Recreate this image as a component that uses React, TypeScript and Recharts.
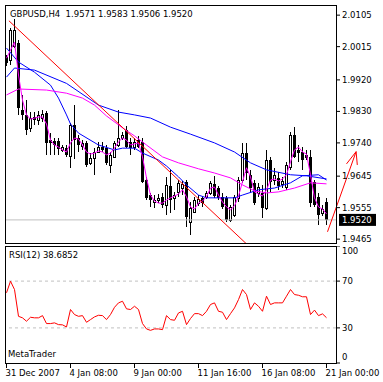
import { ComposedChart, Bar, Line, XAxis, YAxis, ReferenceLine } from 'recharts'

const FONT = "Tahoma, 'DejaVu Sans', sans-serif"
const FS = 8.5

const priceTicks = [2.0105, 2.0015, 1.992, 1.983, 1.974, 1.9645, 1.9555, 1.9465]
const rsiTicks = [0, 30, 70, 100]
const timeTicks = [0, 16, 32, 48, 64, 80]
const timeLabels = ['31 Dec 2007', '4 Jan 08:00', '9 Jan 00:00', '11 Jan 16:00', '16 Jan 08:00', '21 Jan 00:00']

const opens = [
  1.9985, 1.9977, 2.0017, 2.0025, 1.9834, 1.982, 1.9783, 1.9814, 1.9805, 1.9811,
  1.9825, 1.9748, 1.9745, 1.9745, 1.972, 1.9725, 1.9703, 1.9791, 1.9754, 1.9731,
  1.974, 1.9683, 1.9697, 1.9714, 1.9728, 1.9725, 1.9677, 1.97, 1.9734, 1.9754,
  1.9777, 1.9743, 1.9728, 1.9748, 1.9743, 1.9634, 1.9591, 1.9571, 1.9577, 1.9586,
  1.9563, 1.9617, 1.9583, 1.96, 1.9611, 1.9629, 1.9514, 1.9543, 1.9568, 1.9583,
  1.9586, 1.9597, 1.9623, 1.9611, 1.9586, 1.9583, 1.952, 1.9534, 1.9583, 1.9634,
  1.9711, 1.9649, 1.9626, 1.9597, 1.9597, 1.9554, 1.9691, 1.9634, 1.964, 1.9623,
  1.9614, 1.9671, 1.9763, 1.972, 1.9714, 1.9706, 1.97, 1.9629, 1.9586, 1.954,
  1.9571,
]
const highs = [
  1.9991, 2.0068, 2.0094, 2.0034, 1.9877, 1.9862, 1.9828, 1.9828, 1.9831, 1.9834,
  1.9831, 1.9768, 1.9754, 1.9754, 1.9734, 1.9734, 1.9797, 1.9848, 1.9763, 1.9748,
  1.9746, 1.9711, 1.9726, 1.9743, 1.9743, 1.9734, 1.9714, 1.9746, 1.9834, 1.9771,
  1.9788, 1.9754, 1.9754, 1.976, 1.9754, 1.9643, 1.9597, 1.9591, 1.9594, 1.9597,
  1.9643, 1.9663, 1.96, 1.9634, 1.9631, 1.9634, 1.9571, 1.9586, 1.9591, 1.9588,
  1.9603, 1.9631, 1.9646, 1.9617, 1.9597, 1.9588, 1.9563, 1.9591, 1.9643, 1.974,
  1.974, 1.9663, 1.9634, 1.9626, 1.962, 1.972, 1.97, 1.9669, 1.9657, 1.9643,
  1.9686, 1.9771, 1.9785, 1.9734, 1.9728, 1.972, 1.972, 1.9634, 1.9597, 1.9563,
  1.9583,
]
const lows = [
  1.996, 1.9962, 2.0011, 1.982, 1.9805, 1.9763, 1.9771, 1.9791, 1.9791, 1.98,
  1.9706, 1.9706, 1.9706, 1.9706, 1.9714, 1.97, 1.9668, 1.9694, 1.9714, 1.972,
  1.9671, 1.9677, 1.9649, 1.9711, 1.9714, 1.9677, 1.9654, 1.9697, 1.9728, 1.9748,
  1.9725, 1.9706, 1.972, 1.9725, 1.9626, 1.9577, 1.9557, 1.9554, 1.9568, 1.9554,
  1.9534, 1.954, 1.9549, 1.9586, 1.9591, 1.95, 1.9478, 1.954, 1.956, 1.9557,
  1.958, 1.9591, 1.9583, 1.9577, 1.9551, 1.9514, 1.9514, 1.9529, 1.9571, 1.9626,
  1.9634, 1.9597, 1.9563, 1.9586, 1.9526, 1.9549, 1.96, 1.962, 1.9606, 1.9611,
  1.9606, 1.9663, 1.9697, 1.9686, 1.9663, 1.9691, 1.9557, 1.9557, 1.9506, 1.9531,
  1.9506,
]
const closes = [
  1.9968, 2.0062, 2.0062, 1.984, 1.982, 1.9777, 1.9811, 1.9805, 1.982, 1.9823,
  1.974, 1.974, 1.9734, 1.9723, 1.9728, 1.9706, 1.9791, 1.9748, 1.9734, 1.974,
  1.9677, 1.9697, 1.9714, 1.9728, 1.972, 1.9683, 1.9706, 1.974, 1.9754, 1.9763,
  1.9728, 1.9725, 1.9743, 1.9728, 1.9629, 1.9583, 1.9577, 1.9577, 1.9583, 1.9563,
  1.962, 1.9577, 1.9591, 1.9626, 1.9623, 1.9529, 1.9554, 1.9577, 1.958, 1.9568,
  1.9597, 1.9626, 1.9588, 1.9583, 1.9557, 1.952, 1.9557, 1.9586, 1.9634, 1.9711,
  1.9654, 1.9612, 1.9568, 1.9614, 1.9554, 1.9691, 1.9629, 1.9649, 1.9617, 1.9631,
  1.9677, 1.9763, 1.97, 1.9711, 1.9691, 1.9697, 1.9568, 1.9563, 1.9534, 1.9551,
  1.952,
]

// fast magenta average, one value per bar
const magentaFast = [
  1.9982, 2.0005, 2.0028, 1.9934, 1.9862, 1.982, 1.9808, 1.9811, 1.9814, 1.9814,
  1.9794, 1.9748, 1.9734, 1.9728, 1.972, 1.9714, 1.974, 1.9754, 1.9751, 1.9734,
  1.9714, 1.9708, 1.9711, 1.9717, 1.9714, 1.9706, 1.9711, 1.9725, 1.9743, 1.9754,
  1.9748, 1.9734, 1.9737, 1.974, 1.97, 1.964, 1.9591, 1.9574, 1.9568, 1.9568,
  1.9577, 1.9583, 1.9588, 1.9594, 1.9606, 1.9586, 1.9557, 1.9551, 1.9568, 1.9574,
  1.9586, 1.9611, 1.9614, 1.9591, 1.9571, 1.9557, 1.9549, 1.956, 1.9588, 1.9629,
  1.9669, 1.9643, 1.96, 1.9594, 1.9588, 1.9606, 1.9634, 1.9637, 1.9631, 1.9637,
  1.9649, 1.9686, 1.972, 1.9728, 1.9714, 1.9708, 1.9649, 1.9583, 1.9557, 1.9551,
  1.9537,
]

// slower averages, read at [bar, price] points
const magentaSlowPts: [number, number][] = [
  [0, 1.9877], [3, 1.9894], [10, 1.9891], [15, 1.9882], [19, 1.9868], [22, 1.9848],
  [25, 1.9817], [29, 1.9783], [32, 1.976], [35, 1.9734], [39, 1.97], [43, 1.9683],
  [48, 1.9666], [52, 1.9654], [56, 1.964], [59, 1.962], [62, 1.9603], [65, 1.9597],
  [68, 1.96], [72, 1.9611], [76, 1.9626], [80, 1.9623],
]
const blueSlowPts: [number, number][] = [
  [0, 1.9928], [2, 1.9954], [7, 1.9948], [15, 1.991], [23, 1.9848], [28, 1.9828],
  [32, 1.982], [36, 1.9811], [41, 1.9785], [46, 1.9765], [52, 1.974], [57, 1.9714],
  [61, 1.9683], [65, 1.9663], [71, 1.9649], [75, 1.9646], [80, 1.9637],
]
const blueFastPts: [number, number][] = [
  [0, 2.0011], [3, 1.9971], [7, 1.9942], [11, 1.9905], [13, 1.9868], [15, 1.982],
  [16, 1.9794], [18, 1.9768], [23, 1.9734], [27, 1.972], [29, 1.9725], [32, 1.9725],
  [34, 1.9711], [38, 1.9691], [40, 1.9674], [43, 1.9643], [45, 1.962], [48, 1.9591],
  [50, 1.9583], [54, 1.9583], [57, 1.9583], [59, 1.9591], [63, 1.9606], [67, 1.9611],
  [71, 1.9626], [74, 1.9646], [78, 1.9649], [80, 1.9634],
]

const rsi = [
  60.0, 69.9, 62.8, 39.9, 38.6, 35.7, 39.1, 38.6, 38.6, 40.5,
  33.7, 33.7, 34.3, 32.8, 32.6, 30.8, 45.7, 41.4, 39.9, 40.5,
  34.8, 37.1, 39.4, 40.8, 40.5, 37.1, 41.4, 47.6, 51.4, 52.8,
  46.3, 45.7, 48.5, 45.7, 33.7, 29.1, 27.9, 29.1, 29.1, 28.5,
  40.5, 37.1, 36.5, 42.8, 44.2, 32.8, 38.0, 42.2, 42.2, 40.5,
  44.2, 50.0, 51.4, 44.2, 43.4, 37.1, 42.2, 47.1, 54.2, 62.8,
  58.5, 45.7, 51.4, 48.5, 44.2, 57.1, 50.0, 51.4, 51.4, 51.4,
  57.1, 62.8, 58.5, 57.9, 56.6, 56.6, 41.4, 45.2, 40.5, 42.0,
  38.7,
]

const bid = 1.952
const trendLine: [number, number][] = [[0.6, 2.0089], [62, 1.943]]
const arrowShaft: [number, number][] = [[80.25, 1.9486], [87.4, 1.9715]]
const arrowBarbL: [number, number][] = [[87.4, 1.9715], [85, 1.968]]
const arrowBarbR: [number, number][] = [[87.4, 1.9715], [87.7, 1.9677]]

const xDomain = [-0.375, 82.375]

function lookup(pts: [number, number][], i: number) {
  const p = pts.find((q) => q[0] === i)
  return p ? p[1] : null
}

const rows = closes.map((c, i) => ({
  i,
  open: opens[i],
  high: highs[i],
  low: lows[i],
  close: c,
  range: [lows[i], highs[i]],
  maFast: magentaFast[i],
  maSlow: lookup(magentaSlowPts, i),
  blueFast: lookup(blueFastPts, i),
  blueSlow: lookup(blueSlowPts, i),
  rsi: rsi[i],
}))

const seg = (p: [number, number][]) => p.map(([x, y]) => ({ x, y }))

function Candle(props: any) {
  const { x, y, width, height, payload } = props
  if (x == null || y == null) return null
  const yTop = Math.min(y, y + height)
  const h = Math.abs(height)
  const cx = Math.round(x + width / 2 - 0.5) + 0.5
  const { open, high, low, close } = payload
  const k = h / (high - low || 1e-9)
  const py = (v: number) => yTop + (high - v) * k
  const top = Math.round(py(Math.max(open, close)))
  const bot = Math.round(py(Math.min(open, close)))
  const up = close >= open
  return (
    <g>
      <line x1={cx} x2={cx} y1={Math.round(yTop)} y2={Math.round(yTop + h)} stroke="#000" strokeWidth={1} />
      {up ? (
        <rect x={cx - 1} y={top + 0.5} width={2} height={Math.max(bot - top, 1)} fill="#fff" stroke="#000" strokeWidth={1} />
      ) : (
        <rect x={cx - 1.5} y={top} width={3} height={Math.max(bot - top, 1)} fill="#000" />
      )}
    </g>
  )
}

function PriceTick({ x, y, payload }: any) {
  return (
    <text x={x} y={y} dy={3} textAnchor="start" fontSize={FS} fontFamily={FONT} fill="#000">
      {Number(payload.value).toFixed(4)}
    </text>
  )
}

function RsiTick({ x, y, payload }: any) {
  const v = payload.value
  const shift = v === 100 ? 5 : v === 0 ? -6 : 0
  return (
    <text x={x} y={y + shift} dy={3} textAnchor="start" fontSize={FS} fontFamily={FONT} fill="#000">
      {v}
    </text>
  )
}

function TimeTick({ x, y, payload }: any) {
  const idx = timeTicks.indexOf(payload.value)
  return (
    <text x={x - 1} y={y} dy={6} textAnchor="start" fontSize={FS} fontFamily={FONT} fill="#000">
      {timeLabels[idx]}
    </text>
  )
}

function BidLabel({ viewBox }: any) {
  const right = viewBox.x + viewBox.width
  const yy = viewBox.y
  return (
    <g>
      <rect x={right + 3} y={yy - 6} width={37} height={12} fill="#000" />
      <text x={right + 6} y={yy + 3} fontSize={FS} fontFamily={FONT} fill="#fff">
        {bid.toFixed(4)}
      </text>
    </g>
  )
}

export default function App() {
  return (
    <div style={{ position: 'fixed', left: 0, top: 0, width: 383, height: 382, background: '#fff', overflow: 'hidden' }}>
      <div style={{ position: 'absolute', left: 0, top: 0 }}>
        <ComposedChart width={383} height={243} data={rows} margin={{ top: 5, right: 0, bottom: 0, left: 5 }}>
          <XAxis dataKey="i" type="number" domain={xDomain} allowDataOverflow hide />
          <YAxis
            orientation="right"
            width={47}
            domain={[1.9454, 2.0134]}
            allowDataOverflow
            ticks={priceTicks}
            interval={0}
            axisLine={false}
            tickSize={4}
            tickMargin={2}
            tickLine={{ stroke: '#000' }}
            tick={<PriceTick />}
          />
          <ReferenceLine y={bid} stroke="#c0c0c0" label={<BidLabel />} />
          <Bar dataKey="range" barSize={3} shape={<Candle />} isAnimationActive={false} />
          <Line dataKey="blueSlow" stroke="#0000ff" strokeWidth={1} dot={false} connectNulls isAnimationActive={false} />
          <Line dataKey="blueFast" stroke="#0000ff" strokeWidth={1} dot={false} connectNulls isAnimationActive={false} />
          <Line dataKey="maSlow" stroke="#ff00ff" strokeWidth={1} dot={false} connectNulls isAnimationActive={false} />
          <Line dataKey="maFast" stroke="#ff00ff" strokeWidth={1} dot={false} isAnimationActive={false} />
          <ReferenceLine segment={seg(trendLine)} stroke="#ff0000" ifOverflow="hidden" />
          <ReferenceLine segment={seg(arrowShaft)} stroke="#ff0000" ifOverflow="visible" />
          <ReferenceLine segment={seg(arrowBarbL)} stroke="#ff0000" ifOverflow="visible" />
          <ReferenceLine segment={seg(arrowBarbR)} stroke="#ff0000" ifOverflow="visible" />
        </ComposedChart>
      </div>

      <div style={{ position: 'absolute', left: 0, top: 246 }}>
        <ComposedChart width={383} height={136} data={rows} margin={{ top: 0, right: 0, bottom: 0, left: 5 }}>
          <XAxis
            dataKey="i"
            type="number"
            domain={xDomain}
            allowDataOverflow
            ticks={timeTicks}
            interval={0}
            height={19}
            axisLine={false}
            tickSize={5}
            tickMargin={2}
            tickLine={{ stroke: '#000' }}
            tick={<TimeTick />}
          />
          <YAxis
            orientation="right"
            width={47}
            domain={[0, 100]}
            ticks={rsiTicks}
            interval={0}
            axisLine={false}
            tickSize={4}
            tickMargin={2}
            tickLine={{ stroke: '#000' }}
            tick={<RsiTick />}
          />
          <ReferenceLine y={70} stroke="#c0c0c0" strokeDasharray="3 3" />
          <ReferenceLine y={30} stroke="#c0c0c0" strokeDasharray="3 3" />
          <Line dataKey="rsi" stroke="#ff0000" strokeWidth={1} dot={false} isAnimationActive={false} />
        </ComposedChart>
      </div>

      <div style={{ position: 'absolute', left: 5, top: 5, width: 332, height: 239, border: '1px solid #000', boxSizing: 'border-box', pointerEvents: 'none' }} />
      <div style={{ position: 'absolute', left: 5, top: 246, width: 332, height: 118, border: '1px solid #000', boxSizing: 'border-box', pointerEvents: 'none' }} />

      <svg width={383} height={382} style={{ position: 'absolute', left: 0, top: 0, pointerEvents: 'none' }}>
        <text x={10} y={17} fontSize={FS} fontFamily={FONT} fill="#000" style={{ whiteSpace: 'pre' }}>
          {'GBPUSD,H4  1.9571 1.9583 1.9506 1.9520'}
        </text>
        <text x={9} y={258} fontSize={FS} fontFamily={FONT} fill="#000">RSI(12) 38.6852</text>
        <text x={8} y={357} fontSize={FS} fontFamily={FONT} fill="#000">MetaTrader</text>
      </svg>
    </div>
  )
}
